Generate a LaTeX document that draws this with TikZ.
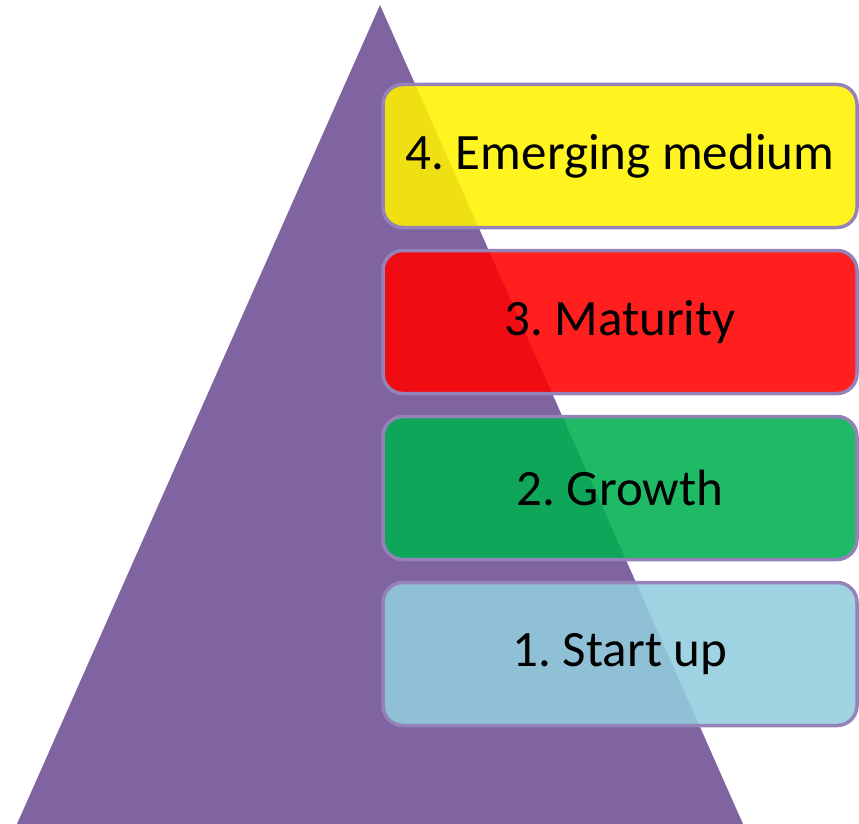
\documentclass[tikz,border=0pt]{standalone}
\usepackage{fontspec}
\setmainfont{Carlito}
\usepackage{xcolor}
\definecolor{pyramid}{HTML}{8064A2}
\definecolor{frame}{HTML}{9582B8}
\definecolor{startblue}{HTML}{93CDDD}
\definecolor{growgreen}{HTML}{00B050}
\frenchspacing

\begin{document}
\begin{tikzpicture}[x=1pt,y=-1pt,node distance=166pt,
    stage/.style={rectangle,rounded corners=20pt,draw=frame,line width=3.5pt,
        minimum width=474pt,minimum height=143pt,fill opacity=0.88,text opacity=1,
        font=\fontsize{51}{61}\selectfont}]

            \useasboundingbox (0,0) rectangle (859,824);

            \coordinate (top) at (380,5);
            \coordinate (left) at (17,824);
            \coordinate (right) at (743,824);
            \fill[pyramid] (top) -- (left) -- (right) -- cycle;

            \node[stage, fill=yellow] (4) at (620,156) {4. Emerging medium};
            \node[stage, fill=red] (3) [below of = 4] {3. Maturity};
            \node[stage, fill=growgreen] (2) [below of = 3] {2. Growth};
            \node[stage, fill=startblue] (1) [below of = 2] {1. Start up};

        \end{tikzpicture}
\end{document}
